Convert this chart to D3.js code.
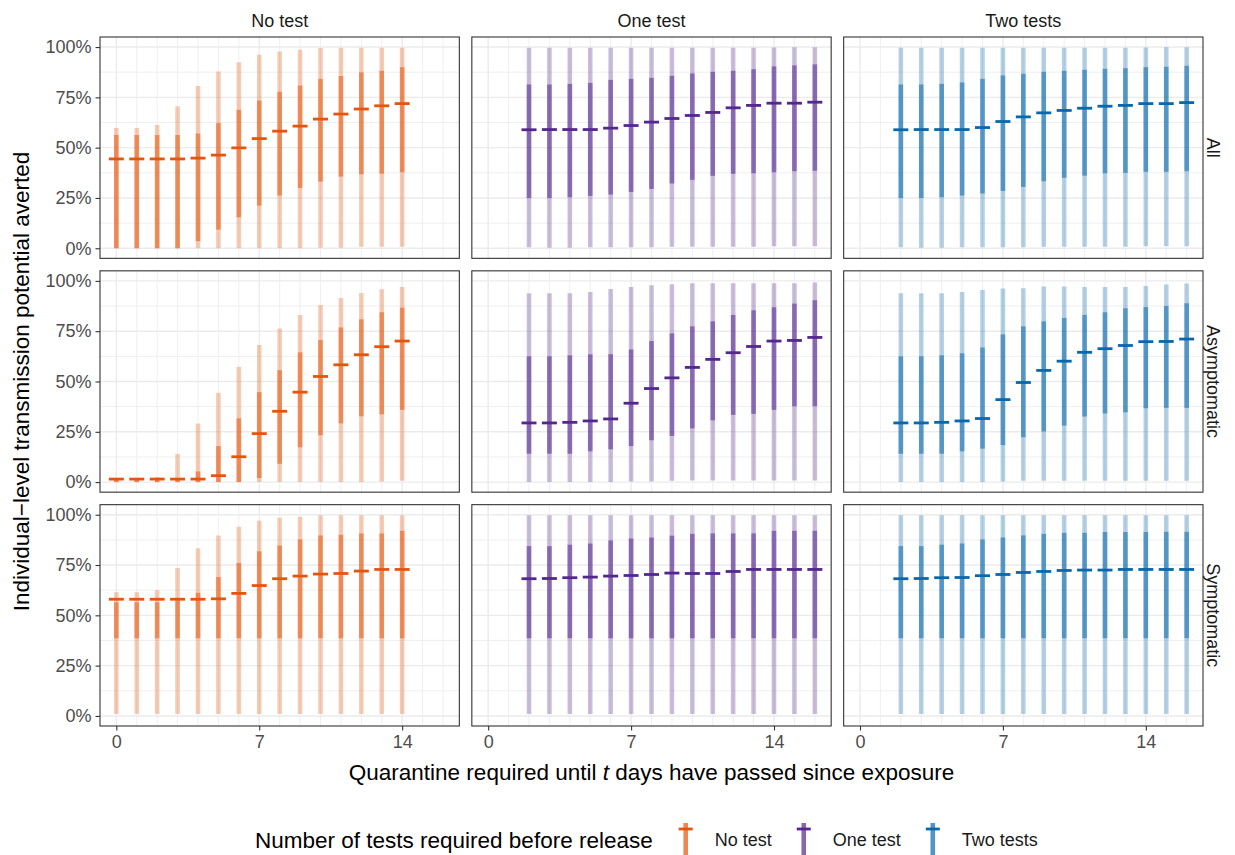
<!DOCTYPE html>
<html><head><meta charset="utf-8">
<script src="https://cdn.jsdelivr.net/npm/d3@7"></script>
<style>
body{margin:0;background:#fff}
text{font-family:"Liberation Sans",Arial,Helvetica,sans-serif}
</style>
</head><body>
<svg id="chart" width="1235" height="855"></svg>
<script>
// ---------------- DATA ----------------
const tests = ["No test", "One test", "Two tests"];
const groups = ["All", "Asymptomatic", "Symptomatic"];
const yTicks = [0, 0.25, 0.5, 0.75, 1];
const xTicks = [0, 7, 14];
const daysNoTest = [0,1,2,3,4,5,6,7,8,9,10,11,12,13,14];
const daysTested = [2,3,4,5,6,7,8,9,10,11,12,13,14,15,16];

// All / No test
const all_none_outerHi = [0.598,0.598,0.613,0.706,0.807,0.879,0.925,0.962,0.978,0.987,0.995,0.997,0.997,0.997,0.997];
const all_none_innerHi = [0.563,0.563,0.563,0.563,0.570,0.622,0.688,0.734,0.778,0.809,0.842,0.856,0.874,0.882,0.900];
const all_none_median  = [0.444,0.444,0.444,0.444,0.448,0.463,0.499,0.545,0.582,0.607,0.642,0.667,0.692,0.708,0.719];
const all_none_innerLo = [0,0,0,0,0.035,0.093,0.154,0.212,0.262,0.299,0.331,0.356,0.368,0.371,0.378];
const all_none_outerLo = [0,0,0,0,0,0,0,0,0,0,0.003,0.003,0.007,0.008,0.008];
// All / One test
const all_one_outerHi = [0.997,0.997,0.997,0.997,0.997,0.997,0.997,0.997,0.997,0.997,0.997,0.997,0.998,0.999,0.999];
const all_one_innerHi = [0.814,0.814,0.817,0.822,0.837,0.842,0.847,0.857,0.869,0.877,0.882,0.890,0.904,0.909,0.914];
const all_one_median  = [0.589,0.590,0.590,0.590,0.597,0.610,0.627,0.645,0.660,0.675,0.698,0.710,0.721,0.721,0.726];
const all_one_innerLo = [0.250,0.250,0.254,0.260,0.267,0.280,0.295,0.322,0.340,0.360,0.370,0.373,0.378,0.383,0.385];
const all_one_outerLo = [0.005,0.003,0.003,0.005,0.005,0.005,0.005,0.007,0.008,0.008,0.008,0.008,0.010,0.010,0.010];
// All / Two tests
const all_two_outerHi = [0.997,0.997,0.997,0.997,0.997,0.997,0.997,0.997,0.997,0.997,0.997,0.997,0.998,0.999,0.999];
const all_two_innerHi = [0.814,0.814,0.817,0.824,0.842,0.859,0.867,0.877,0.882,0.887,0.892,0.895,0.900,0.902,0.907];
const all_two_median  = [0.589,0.590,0.590,0.590,0.600,0.630,0.653,0.673,0.685,0.696,0.706,0.710,0.719,0.719,0.724];
const all_two_innerLo = [0.250,0.250,0.254,0.262,0.272,0.285,0.305,0.333,0.350,0.361,0.373,0.375,0.380,0.380,0.383];
const all_two_outerLo = [0.005,0.003,0.003,0.005,0.005,0.005,0.005,0.007,0.008,0.008,0.008,0.008,0.010,0.010,0.010];

// Asymptomatic / No test
const asy_none_outerHi = [0.020,0.020,0.025,0.140,0.291,0.444,0.573,0.681,0.764,0.831,0.880,0.915,0.940,0.958,0.970];
const asy_none_innerHi = [0.018,0.018,0.018,0.020,0.053,0.179,0.317,0.447,0.556,0.645,0.706,0.769,0.809,0.844,0.867];
const asy_none_median  = [0.015,0.015,0.015,0.015,0.015,0.032,0.126,0.241,0.352,0.447,0.525,0.583,0.633,0.673,0.701];
const asy_none_innerLo = [0,0,0,0,0,0,0,0.020,0.091,0.173,0.233,0.292,0.327,0.337,0.359];
const asy_none_outerLo = [0,0,0,0,0,0,0,0,0,0,0,0,0,0.003,0.007];
// Asymptomatic / One test
const asy_one_outerHi = [0.939,0.939,0.939,0.945,0.960,0.970,0.978,0.983,0.988,0.988,0.988,0.988,0.988,0.988,0.992];
const asy_one_innerHi = [0.625,0.625,0.630,0.635,0.636,0.659,0.701,0.739,0.774,0.799,0.831,0.854,0.869,0.887,0.904];
const asy_one_median  = [0.294,0.294,0.297,0.304,0.314,0.392,0.465,0.518,0.570,0.610,0.643,0.674,0.701,0.704,0.719];
const asy_one_innerLo = [0.141,0.141,0.141,0.153,0.163,0.179,0.208,0.229,0.267,0.307,0.334,0.339,0.359,0.377,0.377];
const asy_one_outerLo = [0,0,0,0,0,0.003,0.003,0.007,0.008,0.008,0.008,0.008,0.008,0.008,0.008];
// Asymptomatic / Two tests
const asy_two_outerHi = [0.939,0.939,0.939,0.945,0.955,0.962,0.963,0.972,0.972,0.970,0.970,0.970,0.975,0.982,0.987];
const asy_two_innerHi = [0.625,0.625,0.630,0.640,0.669,0.734,0.774,0.799,0.816,0.831,0.844,0.864,0.870,0.875,0.889];
const asy_two_median  = [0.294,0.294,0.297,0.304,0.316,0.410,0.495,0.555,0.601,0.645,0.663,0.679,0.698,0.699,0.711];
const asy_two_innerLo = [0.141,0.141,0.141,0.153,0.166,0.184,0.223,0.252,0.281,0.326,0.341,0.347,0.367,0.369,0.369];
const asy_two_outerLo = [0,0,0,0,0,0.003,0.007,0.007,0.007,0.007,0.007,0.007,0.007,0.007,0.007];

// Symptomatic / No test
const sym_none_outerHi = [0.615,0.615,0.625,0.735,0.834,0.897,0.940,0.970,0.985,0.990,0.997,0.998,0.998,0.998,0.998];
const sym_none_innerHi = [0.565,0.565,0.565,0.575,0.612,0.690,0.760,0.818,0.847,0.877,0.897,0.900,0.907,0.907,0.920];
const sym_none_median  = [0.580,0.580,0.580,0.580,0.580,0.582,0.609,0.648,0.682,0.695,0.705,0.708,0.720,0.728,0.728];
const sym_none_innerLo = [0.386,0.386,0.386,0.386,0.386,0.386,0.386,0.386,0.386,0.386,0.386,0.386,0.386,0.386,0.386];
const sym_none_outerLo = [0.010,0.010,0.010,0.010,0.010,0.010,0.010,0.010,0.010,0.010,0.010,0.010,0.010,0.010,0.010];
// Symptomatic / One test
const sym_one_outerHi = [0.998,0.998,0.998,0.998,0.998,0.998,0.998,0.998,0.998,0.998,0.998,0.998,0.998,0.998,0.998];
const sym_one_innerHi = [0.844,0.844,0.851,0.857,0.872,0.882,0.887,0.896,0.905,0.907,0.907,0.907,0.920,0.920,0.920];
const sym_one_median  = [0.682,0.683,0.687,0.690,0.695,0.698,0.703,0.710,0.708,0.708,0.718,0.728,0.728,0.728,0.728];
const sym_one_innerLo = [0.386,0.386,0.386,0.386,0.386,0.386,0.386,0.386,0.386,0.386,0.386,0.386,0.386,0.386,0.386];
const sym_one_outerLo = [0.010,0.010,0.010,0.010,0.010,0.010,0.010,0.010,0.010,0.010,0.010,0.010,0.010,0.010,0.010];
// Symptomatic / Two tests
const sym_two_outerHi = [0.998,0.998,0.998,0.998,0.998,0.998,0.998,0.998,0.998,0.998,0.998,0.998,0.998,0.998,0.998];
const sym_two_innerHi = [0.844,0.844,0.851,0.857,0.877,0.887,0.897,0.905,0.910,0.910,0.914,0.914,0.914,0.915,0.915];
const sym_two_median  = [0.682,0.683,0.687,0.688,0.697,0.703,0.713,0.718,0.723,0.725,0.725,0.728,0.728,0.728,0.728];
const sym_two_innerLo = [0.386,0.386,0.386,0.386,0.386,0.386,0.386,0.386,0.386,0.386,0.386,0.386,0.386,0.386,0.386];
const sym_two_outerLo = [0.010,0.010,0.010,0.010,0.010,0.010,0.010,0.010,0.010,0.010,0.010,0.010,0.010,0.010,0.010];

const testColors = ["#e6550d", "#54278f", "#0868ac"];

// ---------------- BUILD TABLE ----------------
const panelData = [
  [[daysNoTest, all_none_outerLo, all_none_innerLo, all_none_median, all_none_innerHi, all_none_outerHi],
   [daysTested, all_one_outerLo, all_one_innerLo, all_one_median, all_one_innerHi, all_one_outerHi],
   [daysTested, all_two_outerLo, all_two_innerLo, all_two_median, all_two_innerHi, all_two_outerHi]],
  [[daysNoTest, asy_none_outerLo, asy_none_innerLo, asy_none_median, asy_none_innerHi, asy_none_outerHi],
   [daysTested, asy_one_outerLo, asy_one_innerLo, asy_one_median, asy_one_innerHi, asy_one_outerHi],
   [daysTested, asy_two_outerLo, asy_two_innerLo, asy_two_median, asy_two_innerHi, asy_two_outerHi]],
  [[daysNoTest, sym_none_outerLo, sym_none_innerLo, sym_none_median, sym_none_innerHi, sym_none_outerHi],
   [daysTested, sym_one_outerLo, sym_one_innerLo, sym_one_median, sym_one_innerHi, sym_one_outerHi],
   [daysTested, sym_two_outerLo, sym_two_innerLo, sym_two_median, sym_two_innerHi, sym_two_outerHi]]
];
function rows(p) {
  const [d, oL, iL, m, iH, oH] = p;
  return d.map((day, i) => ({day, oL: oL[i], iL: iL[i], m: m[i], iH: iH[i], oH: oH[i]}));
}

// ---------------- LAYOUT ----------------
const svg = d3.select("#chart");
const mLeft = 100, mRight = 1203, mTop = 37, mBottom = 726, gap = 12.5;
const pw = (mRight - mLeft - 2 * gap) / 3, ph = (mBottom - mTop - 2 * gap) / 3;
const x = d3.scaleLinear().domain([-0.8, 16.8]).range([0, pw]);
const y = d3.scaleLinear().domain([-0.05, 1.05]).range([ph, 0]);
const gridCol = "#ebebeb";
const barW = 4.6, dashHalf = 7.5;

groups.forEach((g, r) => {
  tests.forEach((t, c) => {
    const px = mLeft + c * (pw + gap), py = mTop + r * (ph + gap);
    const p = svg.append("g").attr("transform", `translate(${px},${py})`);
    p.append("rect").attr("width", pw).attr("height", ph).attr("fill", "#fff");
    const minorX = d3.range(0, 17).filter(v => !xTicks.includes(v));
    p.selectAll(".mx").data(minorX).join("line")
      .attr("x1", d => x(d)).attr("x2", d => x(d)).attr("y1", 0).attr("y2", ph)
      .attr("stroke", gridCol).attr("stroke-width", 0.8);
    const minorY = [0.125, 0.375, 0.625, 0.875];
    p.selectAll(".my").data(minorY).join("line")
      .attr("y1", d => y(d)).attr("y2", d => y(d)).attr("x1", 0).attr("x2", pw)
      .attr("stroke", gridCol).attr("stroke-width", 0.8);
    p.selectAll(".Mx").data(xTicks).join("line")
      .attr("x1", d => x(d)).attr("x2", d => x(d)).attr("y1", 0).attr("y2", ph)
      .attr("stroke", gridCol).attr("stroke-width", 1.4);
    p.selectAll(".My").data(yTicks).join("line")
      .attr("y1", d => y(d)).attr("y2", d => y(d)).attr("x1", 0).attr("x2", pw)
      .attr("stroke", gridCol).attr("stroke-width", 1.4);

    const data = rows(panelData[r][c]);
    const col = testColors[c];
    p.selectAll(".outer").data(data).join("line")
      .attr("x1", d => x(d.day)).attr("x2", d => x(d.day))
      .attr("y1", d => y(d.oL)).attr("y2", d => y(d.oH))
      .attr("stroke", col).attr("stroke-opacity", 0.3).attr("stroke-width", barW);
    p.selectAll(".inner").data(data).join("line")
      .attr("x1", d => x(d.day)).attr("x2", d => x(d.day))
      .attr("y1", d => y(d.iL)).attr("y2", d => y(d.iH))
      .attr("stroke", col).attr("stroke-opacity", 0.55).attr("stroke-width", barW);
    p.selectAll(".med").data(data).join("line")
      .attr("x1", d => x(d.day) - dashHalf).attr("x2", d => x(d.day) + dashHalf)
      .attr("y1", d => y(d.m)).attr("y2", d => y(d.m))
      .attr("stroke", col).attr("stroke-width", 2.8);

    p.append("rect").attr("width", pw).attr("height", ph)
      .attr("fill", "none").attr("stroke", "#333333").attr("stroke-width", 1.1);

    if (c === 0) {
      const ax = p.append("g").call(d3.axisLeft(y).tickValues(yTicks).tickFormat(d3.format(".0%")).tickSize(4.5).tickPadding(4));
      ax.select(".domain").remove();
      ax.selectAll("line").attr("stroke", "#333333").attr("stroke-width", 1.1);
      ax.selectAll("text").attr("fill", "#4d4d4d").style("font-size", "18px")
        .style("font-family", "'Liberation Sans',Arial,sans-serif");
    }
    if (r === 2) {
      const ax = p.append("g").attr("transform", `translate(0,${ph})`)
        .call(d3.axisBottom(x).tickValues(xTicks).tickFormat(d3.format("d")).tickSize(4.5).tickPadding(5));
      ax.select(".domain").remove();
      ax.selectAll("line").attr("stroke", "#333333").attr("stroke-width", 1.1);
      ax.selectAll("text").attr("fill", "#4d4d4d").style("font-size", "18px")
        .style("font-family", "'Liberation Sans',Arial,sans-serif");
    }
    if (r === 0) {
      svg.append("text").attr("x", px + pw / 2).attr("y", 26.5)
        .attr("text-anchor", "middle").attr("fill", "#1a1a1a").style("font-size", "18px").text(t);
    }
    if (c === 2) {
      svg.append("text").attr("transform", `translate(${mRight + 10},${py + ph / 2}) rotate(90)`)
        .attr("text-anchor", "middle").attr("dy", "0.35em").attr("fill", "#1a1a1a")
        .style("font-size", "18px").text(g);
    }
  });
});

svg.append("text").attr("transform", `translate(29,${(mTop + mBottom) / 2}) rotate(-90)`)
  .attr("text-anchor", "middle").attr("fill", "#000").style("font-size", "22.5px")
  .text("Individual\u2212level transmission potential averted");
const xt = svg.append("text").attr("x", (mLeft + mRight) / 2).attr("y", 780)
  .attr("text-anchor", "middle").attr("fill", "#000").style("font-size", "22.5px");
xt.append("tspan").text("Quarantine required until ");
xt.append("tspan").style("font-style", "italic").text("t");
xt.append("tspan").text(" days have passed since exposure");

const lg = svg.append("g");
const lt = lg.append("text").attr("x", 255).attr("y", 848).attr("fill", "#000")
  .style("font-size", "22.5px").text("Number of tests required before release");
let cx = 255 + lt.node().getComputedTextLength() + 33;
tests.forEach((t, i) => {
  const col = testColors[i];
  lg.append("line").attr("x1", cx).attr("x2", cx).attr("y1", 823).attr("y2", 856)
    .attr("stroke", col).attr("stroke-opacity", 0.7).attr("stroke-width", barW);
  lg.append("line").attr("x1", cx - 7).attr("x2", cx + 7).attr("y1", 829).attr("y2", 829)
    .attr("stroke", col).attr("stroke-width", 2.8);
  const tx = lg.append("text").attr("x", cx + 29).attr("y", 846).attr("fill", "#1a1a1a")
    .style("font-size", "18px").text(t);
  cx = cx + 29 + tx.node().getComputedTextLength() + 32;
});
</script>
</body></html>
